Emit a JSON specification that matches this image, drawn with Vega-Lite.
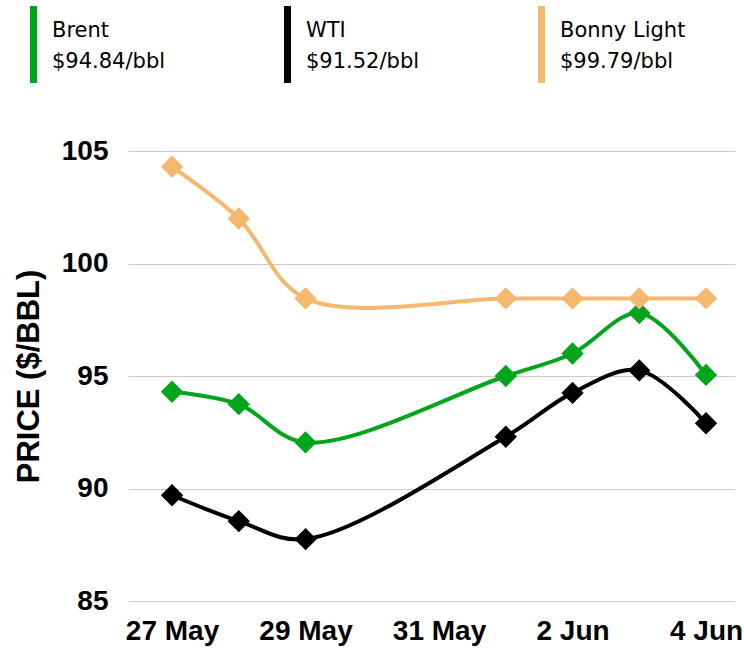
{
  "$schema": "https://vega.github.io/schema/vega-lite/v6.json",
  "autosize": "none",
  "width": 607,
  "height": 450,
  "padding": {"left": 128, "top": 151, "right": 9, "bottom": 48},
  "background": "white",
  "config": {"view": {"stroke": null}},
  "data": {"values": [
    {"date": "2023-05-27", "series": "Brent", "price": 94.3},
    {"date": "2023-05-28", "series": "Brent", "price": 93.75},
    {"date": "2023-05-29", "series": "Brent", "price": 92.05},
    {"date": "2023-06-01", "series": "Brent", "price": 95.0},
    {"date": "2023-06-02", "series": "Brent", "price": 96.0},
    {"date": "2023-06-03", "series": "Brent", "price": 97.8},
    {"date": "2023-06-04", "series": "Brent", "price": 95.05},
    {"date": "2023-05-27", "series": "WTI", "price": 89.7},
    {"date": "2023-05-28", "series": "WTI", "price": 88.55},
    {"date": "2023-05-29", "series": "WTI", "price": 87.75},
    {"date": "2023-06-01", "series": "WTI", "price": 92.3},
    {"date": "2023-06-02", "series": "WTI", "price": 94.25},
    {"date": "2023-06-03", "series": "WTI", "price": 95.25},
    {"date": "2023-06-04", "series": "WTI", "price": 92.9},
    {"date": "2023-05-27", "series": "Bonny Light", "price": 104.3},
    {"date": "2023-05-28", "series": "Bonny Light", "price": 102.0},
    {"date": "2023-05-29", "series": "Bonny Light", "price": 98.45},
    {"date": "2023-06-01", "series": "Bonny Light", "price": 98.45},
    {"date": "2023-06-02", "series": "Bonny Light", "price": 98.45},
    {"date": "2023-06-03", "series": "Bonny Light", "price": 98.45},
    {"date": "2023-06-04", "series": "Bonny Light", "price": 98.45}
  ]},
  "encoding": {
    "x": {
      "field": "date", "type": "temporal",
      "scale": {"type": "utc", "domain": [
        {"year": 2023, "month": 5, "date": 26, "hours": 8, "minutes": 10, "utc": true},
        {"year": 2023, "month": 6, "date": 4, "hours": 10, "minutes": 25, "utc": true}
      ]},
      "axis": {
        "title": null,
        "values": [
          {"year": 2023, "month": 5, "date": 27, "utc": true},
          {"year": 2023, "month": 5, "date": 29, "utc": true},
          {"year": 2023, "month": 5, "date": 31, "utc": true},
          {"year": 2023, "month": 6, "date": 2, "utc": true},
          {"year": 2023, "month": 6, "date": 4, "utc": true}
        ],
        "format": "%-d %b",
        "grid": false, "domain": false, "ticks": false,
        "labelFont": "Liberation Sans", "labelFontWeight": "bold", "labelFontSize": 28,
        "labelColor": "#000", "labelPadding": 16, "labelFlush": false, "labelOverlap": false
      }
    },
    "y": {
      "field": "price", "type": "quantitative",
      "scale": {"domain": [85, 105], "nice": false, "zero": false},
      "axis": {
        "title": "PRICE ($/BBL)",
        "values": [85, 90, 95, 100, 105],
        "grid": true, "gridColor": "#cccccc", "gridWidth": 1,
        "domain": false, "ticks": false,
        "labelFont": "Liberation Sans", "labelFontWeight": "bold", "labelFontSize": 28,
        "labelColor": "#000", "labelPadding": 20,
        "titleFont": "Liberation Sans", "titleFontWeight": "bold", "titleFontSize": 31,
        "titleColor": "#000", "titlePadding": 16
      }
    },
    "color": {
      "field": "series", "type": "nominal",
      "scale": {"domain": ["Brent", "WTI", "Bonny Light"], "range": ["#00a51c", "#000000", "#f4b86e"]},
      "legend": {
        "title": null,
        "orient": "none",
        "legendX": -105,
        "legendY": -131,
        "direction": "horizontal",
        "columns": 3,
        "gridAlign": "all",
        "columnPadding": 99,
        "padding": 0,
        "symbolType": "M-0.35,-2.45H0.35V5.25H-0.35Z",
        "symbolSize": 400,
        "symbolStrokeWidth": 0,
        "symbolOpacity": 1,
        "labelOffset": 8,
        "labelFont": "DejaVu Sans",
        "labelFontSize": 21,
        "labelColor": "#000",
        "labelLimit": 400,
        "labelExpr": "datum.label == 'Brent' ? ['Brent', '$94.84/bbl'] : datum.label == 'WTI' ? ['WTI', '$91.52/bbl'] : ['Bonny Light', '$99.79/bbl']",
        "encode": {"labels": {"update": {"lineHeight": {"value": 31}}}}
      }
    }
  },
  "layer": [
    {"mark": {"type": "line", "interpolate": "catmull-rom", "strokeWidth": 4}},
    {"mark": {"type": "point", "shape": "diamond", "filled": true, "size": 500, "opacity": 1}}
  ]
}
